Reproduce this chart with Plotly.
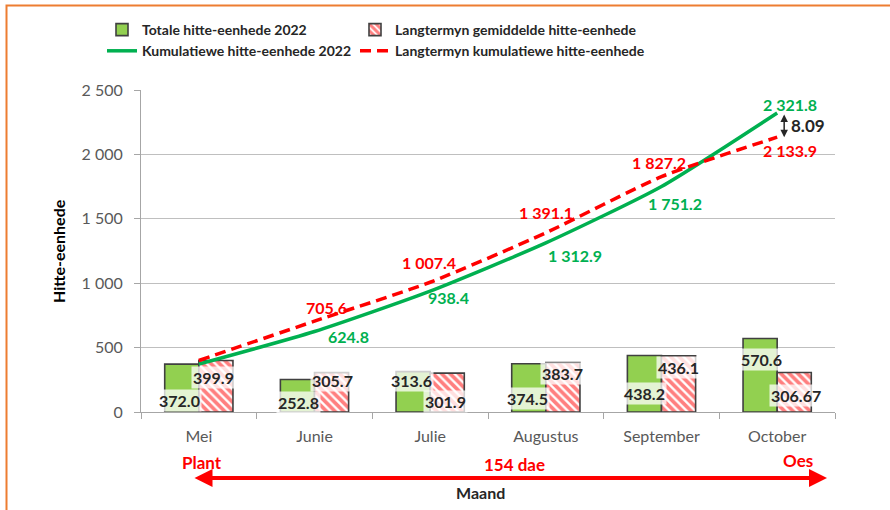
import plotly.graph_objects as go

# ---------------- data ----------------
months = ["Mei", "Junie", "Julie", "Augustus", "September", "October"]
totale_2022 = [372.0, 252.8, 313.6, 374.5, 438.2, 570.6]
langtermyn_gem = [399.9, 305.7, 301.9, 383.7, 436.1, 306.67]
kumulatief_2022 = [372.0, 624.8, 938.4, 1312.9, 1751.2, 2321.8]
langtermyn_kum = [399.9, 705.6, 1007.4, 1391.1, 1827.2, 2133.9]
y_ticks = [0, 500, 1000, 1500, 2000, 2500]
verskil_pct = "8.09"

# ---------------- style ----------------
FONT = "Lato, Roboto, Arial, sans-serif"
GREEN_BAR = "#92D050"
GREEN_LINE = "#00B050"
RED = "#FF0000"
DARK = "#262626"
GRAY_TXT = "#595959"
GRID = "#BFBFBF"
ORANGE = "#ED7D31"

W, H = 890, 510
ML, MR, MT, MB = 141, 55, 90, 98
PW = W - ML - MR
PH = H - MT - MB
YMAX = 2500
NCAT = len(months)


def fmt(v):
    s = f"{v:,.2f}"
    if s.endswith("0"):
        s = s[:-1]
    return s.replace(",", " ")


def px_x(p):
    return (p - ML) / PW


def px_y(p):
    return (H - MB - p) / PH


def px_cat(p):
    return (p - ML) / PW * NCAT - 0.5


fig = go.Figure()

fig.add_trace(go.Bar(
    x=months, y=totale_2022, name="Totale hitte-eenhede 2022",
    marker=dict(color=GREEN_BAR, line=dict(color="#404040", width=1.6)),
    legend="legend", hoverinfo="skip",
))
fig.add_trace(go.Bar(
    x=months, y=langtermyn_gem, name="Langtermyn gemiddelde hitte-eenhede",
    marker=dict(color="white", line=dict(color="#404040", width=1.6),
                pattern=dict(shape="\\", fgcolor=RED, bgcolor="white",
                             size=6, solidity=0.62)),
    legend="legend2", hoverinfo="skip",
))
fig.add_trace(go.Scatter(
    x=months, y=kumulatief_2022, name="Kumulatiewe hitte-eenhede 2022",
    mode="lines", line=dict(color=GREEN_LINE, width=3.5, shape="spline", smoothing=0.6),
    legend="legend", hoverinfo="skip",
))
fig.add_trace(go.Scatter(
    x=months, y=langtermyn_kum, name="Langtermyn kumulatiewe hitte-eenhede",
    mode="lines", line=dict(color=RED, width=3.5, dash="11px,6px", shape="spline", smoothing=0.6),
    legend="legend2", hoverinfo="skip",
))

ann = []
# bar labels (pixel offsets relative to category centre / baseline)
green_off = [(-19.5, 11.5), (-16, 9.5), (-18.5, 31.5), (-18, 13.5), (-17.5, 18.5), (-16, 52.5)]
red_off = [(14.5, 34.5), (18, 31.5), (15.5, 10.5), (17, 38.5), (16.5, 44.5), (19, 16.5)]
for i, v in enumerate(totale_2022):
    dx, dy = green_off[i]
    ann.append(dict(x=i, y=0, xref="x", yref="y", text=fmt(v), showarrow=False,
                    xanchor="center", yanchor="middle",
                    xshift=dx, yshift=dy, bgcolor="rgba(255,255,255,0.75)", borderpad=1,
                    font=dict(family=FONT, size=16, color=DARK, weight="bold")))
for i, v in enumerate(langtermyn_gem):
    dx, dy = red_off[i]
    ann.append(dict(x=i, y=0, xref="x", yref="y", text=fmt(v), showarrow=False,
                    xanchor="center", yanchor="middle",
                    xshift=dx, yshift=dy, bgcolor="rgba(255,255,255,0.75)", borderpad=1,
                    font=dict(family=FONT, size=16, color=DARK, weight="bold")))

# cumulative line labels (skip first month)
red_line_off = [None, (12, 14), (-1, 20), (0, 20), (-2.5, 14), (12.5, -13)]
green_line_off = [None, (33.5, -5), (18.5, -6), (29, -13), (13.5, -17), (13, 8.5)]
for i in range(1, NCAT):
    dx, dy = red_line_off[i]
    ann.append(dict(x=i, y=langtermyn_kum[i], xref="x", yref="y", text=fmt(langtermyn_kum[i]),
                    showarrow=False, xshift=dx, yshift=dy, xanchor="center", yanchor="middle",
                    font=dict(family=FONT, size=16, color=RED, weight="bold")))
    dx, dy = green_line_off[i]
    ann.append(dict(x=i, y=kumulatief_2022[i], xref="x", yref="y", text=fmt(kumulatief_2022[i]),
                    showarrow=False, xshift=dx, yshift=dy, xanchor="center", yanchor="middle",
                    font=dict(family=FONT, size=16, color=GREEN_LINE, weight="bold")))

# difference arrow
last = NCAT - 1
ann.append(dict(x=last, y=langtermyn_kum[last], xref="x", yref="y",
                ax=last, ay=kumulatief_2022[last], axref="x", ayref="y",
                xshift=7, text="", showarrow=True, arrowhead=2, startarrowhead=2,
                arrowside="end+start", arrowsize=1, arrowwidth=1.5, arrowcolor=DARK,
                standoff=0, startstandoff=0))
ann.append(dict(x=last, y=(kumulatief_2022[last] + langtermyn_kum[last]) / 2, xref="x", yref="y",
                text=verskil_pct, showarrow=False, xshift=31, xanchor="center", yanchor="middle",
                font=dict(family=FONT, size=17, color=DARK, weight="bold")))


def paper_text(px, py, text, size, color, angle=0):
    return dict(x=px_x(px), y=px_y(py), xref="paper", yref="paper", text=text,
                textangle=angle, showarrow=False, xanchor="center", yanchor="middle",
                font=dict(family=FONT, size=size, color=color, weight="bold"))


ann.append(paper_text(58, 251, "Hitte-eenhede", 16, "#000000", -90))
ann.append(paper_text(480.5, 492, "Maand", 16, DARK))
ann.append(paper_text(202, 462, "Plant", 17, RED))
ann.append(paper_text(514.5, 464, "154 dae", 17, RED))
ann.append(paper_text(798, 460, "Oes", 17, RED))
ann.append(dict(x=px_cat(827), y=px_y(478), xref="x", yref="paper",
                ax=px_cat(193), ay=0, axref="x", ayref="pixel",
                text="", showarrow=True, arrowhead=2, startarrowhead=2, arrowside="end+start",
                arrowsize=0.9, arrowwidth=4, arrowcolor=RED, standoff=0, startstandoff=0))

shapes = [
    dict(type="rect", xref="paper", yref="paper", x0=px_x(6.5), x1=px_x(900),
         y0=px_y(520), y1=px_y(5.5), line=dict(color=ORANGE, width=2),
         fillcolor="rgba(0,0,0,0)", layer="above"),
]

LEG_FONT = dict(family=FONT, size=14, color=DARK, weight="bold")
fig.update_layout(
    width=W, height=H,
    margin=dict(l=ML, r=MR, t=MT, b=MB),
    paper_bgcolor="white", plot_bgcolor="white",
    barmode="group", bargap=0.41, bargroupgap=0,
    separators=". ",
    font=dict(family=FONT, color=GRAY_TXT),
    annotations=ann, shapes=shapes,
    legend=dict(x=px_x(102), y=px_y(14), xanchor="left", yanchor="top", orientation="v",
                bgcolor="rgba(0,0,0,0)", font=LEG_FONT, tracegroupgap=0),
    legend2=dict(x=px_x(355), y=px_y(14), xanchor="left", yanchor="top", orientation="v",
                 bgcolor="rgba(0,0,0,0)", font=LEG_FONT, tracegroupgap=0),
    xaxis=dict(type="category", tickson="boundaries", ticks="outside", ticklen=6,
               tickcolor="#A6A6A6", showline=True, linecolor="#A6A6A6", linewidth=1,
               showgrid=False, range=[-0.5, NCAT - 0.5], ticklabelstandoff=10,
               tickfont=dict(family=FONT, size=16, color=GRAY_TXT)),
    yaxis=dict(range=[0, YMAX], tickvals=y_ticks, tickformat=",d", ticks="outside", ticklen=6,
               tickcolor="#A6A6A6", showline=True, linecolor="#A6A6A6", linewidth=1,
               showgrid=True, gridcolor=GRID, gridwidth=1, zeroline=False,
               ticklabelstandoff=8,
               tickfont=dict(family=FONT, size=16, color=GRAY_TXT)),
)

fig.write_html("out.html", config={"displayModeBar": False},
               post_script="document.body.style.margin='0';")
